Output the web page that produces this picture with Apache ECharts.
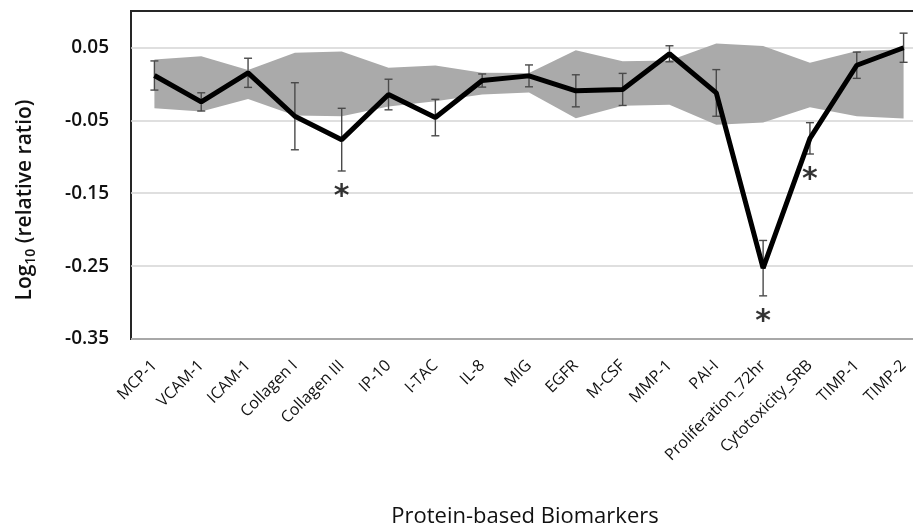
<!DOCTYPE html>
<html>
<head>
<meta charset="utf-8">
<script src="https://cdn.jsdelivr.net/npm/echarts@6/dist/echarts.min.js"></script>
<style>
html,body{margin:0;padding:0;background:#fff;}
#chart{width:913px;height:528px;}
</style>
</head>
<body>
<div id="chart"></div>
<script>
const categories = ['MCP-1','VCAM-1','ICAM-1','Collagen I','Collagen III','IP-10','I-TAC','IL-8','MIG','EGFR','M-CSF','MMP-1','PAI-I','Proliferation_72hr','Cytotoxicity_SRB','TIMP-1','TIMP-2'];
const meanValues = [0.0115,-0.0247,0.0152,-0.0444,-0.0765,-0.0146,-0.0462,0.0046,0.011,-0.0095,-0.0076,0.0413,-0.0124,-0.2528,-0.0747,0.0256,0.0496];
const errValues  = [0.020,0.0125,0.020,0.046,0.043,0.021,0.025,0.009,0.015,0.022,0.022,0.011,0.032,0.038,0.0215,0.018,0.020];
const bandUpper  = [0.0335,0.038,0.0189,0.0427,0.0445,0.022,0.0253,0.0152,0.015,0.046,0.031,0.032,0.0555,0.052,0.029,0.045,0.0475];
const bandLower  = [-0.0333,-0.038,-0.0206,-0.0434,-0.0445,-0.031,-0.0238,-0.0146,-0.0118,-0.047,-0.030,-0.0285,-0.056,-0.053,-0.032,-0.0445,-0.0475];
const significant = ['Collagen III','Proliferation_72hr','Cytotoxicity_SRB'];
const yTickLabels = [-0.35,-0.25,-0.15,-0.05,0.05];

const FONT = '"Open Sans", sans-serif';
const chart = echarts.init(document.getElementById('chart'), null, {renderer:'canvas'});

const bandWidth = bandUpper.map((u,i)=>+(u - bandLower[i]).toFixed(4));
const errData = categories.map((c,i)=>[i, meanValues[i], errValues[i]]);
const starData = significant.map(c=>{const i = categories.indexOf(c); return [i, meanValues[i]-errValues[i]];});

const option = {
  animation:false,
  backgroundColor:'#fff',
  grid:{left:131, top:11, right:-14, bottom:189, show:true, borderColor:'#262626', borderWidth:2, backgroundColor:'transparent', containLabel:false, outerBoundsMode:'none'},
  xAxis:{
    type:'category', data:categories, boundaryGap:true,
    axisLine:{show:false}, axisTick:{show:false},
    axisLabel:{interval:0, rotate:45, fontSize:16, fontFamily:FONT, color:'#111', margin:24}
  },
  yAxis:{
    type:'value', min:-0.35, max:0.1, interval:0.05,
    axisLine:{show:false}, axisTick:{show:false},
    axisLabel:{
      margin:22, fontSize:19, fontWeight:600, fontFamily:FONT, color:'#111',
      formatter:function(v){
        const hit = yTickLabels.some(t=>Math.abs(t-v)<1e-6);
        return hit ? v.toFixed(2) : '';
      }
    },
    splitLine:{show:true, lineStyle:{color:['#d4d4d4','transparent'], width:1.5}}
  },
  graphic:[
    {type:'text', x:25, y:200, rotation:Math.PI/2, z:10,
     style:{text:'{a|Log}{s|10}{a| (relative ratio)}', align:'center', verticalAlign:'middle',
       rich:{a:{fontSize:21, fontWeight:600, fontFamily:FONT, fill:'#111', lineHeight:26},
             s:{fontSize:14, fontWeight:600, fontFamily:FONT, fill:'#111', lineHeight:14, verticalAlign:'bottom'}}}},
    {type:'text', x:525, y:517, z:10,
     style:{text:'Protein-based Biomarkers', align:'center', verticalAlign:'middle', fontSize:22, fontFamily:FONT, fill:'#111'}}
  ],
  series:[
    {type:'line', name:'lower', data:bandLower, stack:'band', stackStrategy:'all', symbol:'none',
     lineStyle:{opacity:0}, silent:true, z:1},
    {type:'line', name:'band', data:bandWidth, stack:'band', stackStrategy:'all', symbol:'none',
     lineStyle:{opacity:0}, areaStyle:{color:'#aaaaaa', opacity:1}, silent:true, z:1},
    {type:'custom', name:'err', data:errData, z:3,
     renderItem:function(params, api){
       const x = api.value(0), v = api.value(1), e = api.value(2);
       const t = api.coord([x, v+e]), b = api.coord([x, v-e]);
       const w = 4, st = {stroke:'#4a4a4a', lineWidth:1.4};
       return {type:'group', children:[
         {type:'line', shape:{x1:t[0],y1:t[1],x2:b[0],y2:b[1]}, style:st},
         {type:'line', shape:{x1:t[0]-w,y1:t[1],x2:t[0]+w,y2:t[1]}, style:st},
         {type:'line', shape:{x1:b[0]-w,y1:b[1],x2:b[0]+w,y2:b[1]}, style:st}
       ]};
     }},
    {type:'line', name:'mean', data:meanValues, symbol:'none', lineStyle:{color:'#000', width:5}, z:5},
    {type:'scatter', name:'star', data:starData, symbol:'circle', symbolSize:1, itemStyle:{color:'rgba(0,0,0,0)'}, z:6,
     label:{show:true, formatter:'*', position:'inside', offset:[0,26], fontSize:30, fontWeight:'bold', fontFamily:'DejaVu Sans', color:'#000', verticalAlign:'middle', align:'center'}}
  ]
};
chart.setOption(option);
</script>
</body>
</html>
